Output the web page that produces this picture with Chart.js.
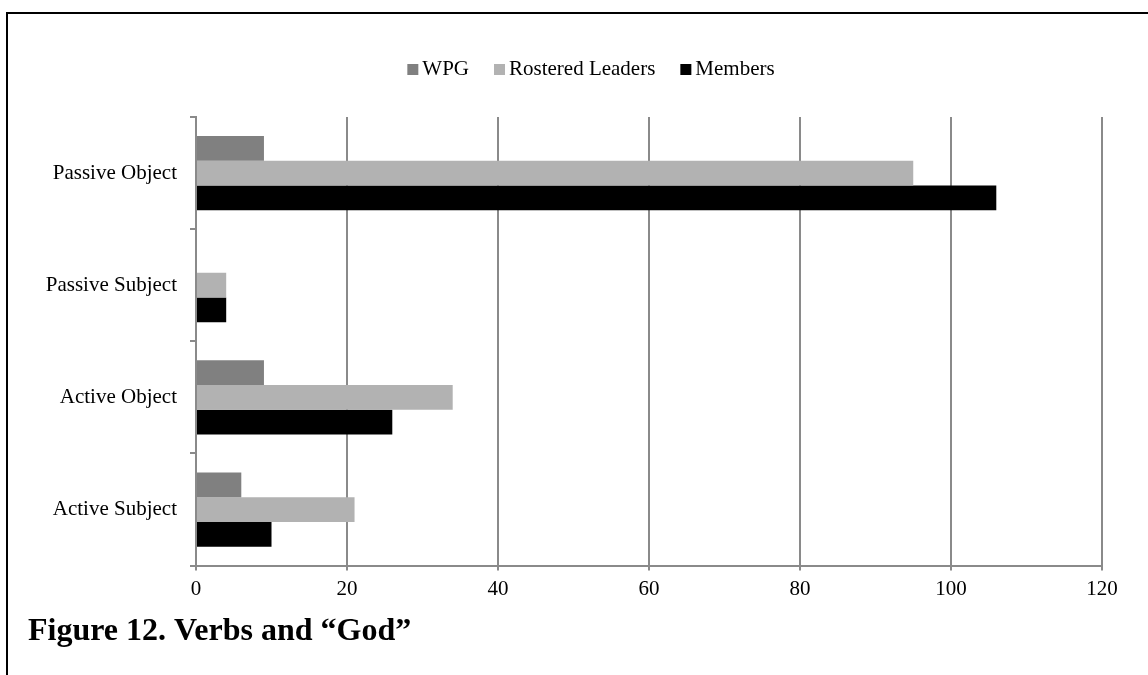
<!DOCTYPE html>
<html>
<head>
<meta charset="utf-8">
<script src="https://cdn.jsdelivr.net/npm/chart.js@4"></script>
<style>
  html, body { margin: 0; padding: 0; background: #ffffff; }
  #wrap { position: relative; width: 1148px; height: 675px; background: #ffffff; overflow: hidden; }
  #frame { position: absolute; left: 6px; top: 12px; right: 0; bottom: 0;
           border-top: 2px solid #000; border-left: 2px solid #000; pointer-events: none; }
  canvas { position: absolute; left: 0; top: 0; }
</style>
</head>
<body>
<div id="wrap">
  <canvas id="chart" width="1148" height="675"></canvas>
  <div id="frame"></div>
</div>
<script>
// Categories, listed top to bottom
const categories = ['Passive Object', 'Passive Subject', 'Active Object', 'Active Subject'];

// Counts per speaker group
const wpgValues = [9, 0, 9, 6];
const rosteredLeadersValues = [95, 4, 34, 21];
const membersValues = [106, 4, 26, 10];

// Value axis
const xMin = 0;
const xMax = 120;
const xStep = 20;

const captionText = 'Figure 12. Verbs and \u201cGod\u201d';

const serif = "'Liberation Serif', 'Times New Roman', serif";
const gridGray = '#8a8a8a';

// Compact one-row legend: square swatch, tight gap, then the series name
const compactLegend = {
  id: 'compactLegend',
  afterDraw(chart, args, opts) {
    const ctx = chart.ctx;
    const font = opts.size + 'px ' + serif;
    ctx.save();
    ctx.font = font;
    ctx.textBaseline = 'middle';
    ctx.textAlign = 'left';
    const items = chart.data.datasets.map(ds => ({
      text: ds.label,
      color: ds.backgroundColor,
      w: ctx.measureText(ds.label).width
    }));
    const total = items.reduce((s, it) => s + opts.box + opts.gap + it.w, 0) +
                  opts.spacing * (items.length - 1);
    let x = opts.centerX - total / 2;
    const y = opts.centerY;
    items.forEach(it => {
      ctx.fillStyle = it.color;
      ctx.fillRect(x, Math.round(y - opts.box / 2), opts.box, opts.box);
      ctx.fillStyle = '#000';
      ctx.fillText(it.text, x + opts.box + opts.gap, y);
      x += opts.box + opts.gap + it.w + opts.spacing;
    });
    ctx.restore();
  }
};

new Chart(document.getElementById('chart'), {
  type: 'bar',
  data: {
    labels: categories,
    datasets: [
      { label: 'WPG', data: wpgValues, backgroundColor: '#808080' },
      { label: 'Rostered Leaders', data: rosteredLeadersValues, backgroundColor: '#b2b2b2' },
      { label: 'Members', data: membersValues, backgroundColor: '#000000' }
    ]
  },
  options: {
    indexAxis: 'y',
    responsive: false,
    animation: false,
    devicePixelRatio: 1,
    layout: { padding: { top: 117, left: 28, right: 46, bottom: 0 } },
    datasets: {
      bar: { categoryPercentage: 0.662, barPercentage: 1.0, borderWidth: 0 }
    },
    scales: {
      x: {
        type: 'linear',
        min: xMin,
        max: xMax,
        ticks: {
          stepSize: xStep,
          color: '#000',
          padding: 6,
          font: { family: serif, size: 21 }
        },
        grid: { color: gridGray, lineWidth: 2, tickLength: 5, drawOnChartArea: true },
        border: { display: true, color: gridGray, width: 2 },
        afterFit(scale) { scale.height = 40; }
      },
      y: {
        ticks: {
          color: '#000',
          padding: 13,
          font: { family: serif, size: 21 }
        },
        grid: { color: gridGray, lineWidth: 2, tickLength: 6, drawOnChartArea: false, offset: true },
        border: { display: true, color: gridGray, width: 2 },
        afterFit(scale) { scale.width = 168; }
      }
    },
    plugins: {
      tooltip: { enabled: false },
      legend: { display: false },
      compactLegend: { size: 21, box: 11, gap: 4, spacing: 25, centerX: 591, centerY: 69 },
      title: {
        display: true,
        text: captionText,
        position: 'bottom',
        align: 'start',
        color: '#000',
        padding: { top: 7, bottom: 24 },
        font: { family: serif, size: 32, weight: 'bold' }
      }
    }
  },
  plugins: [compactLegend]
});
</script>
</body>
</html>
